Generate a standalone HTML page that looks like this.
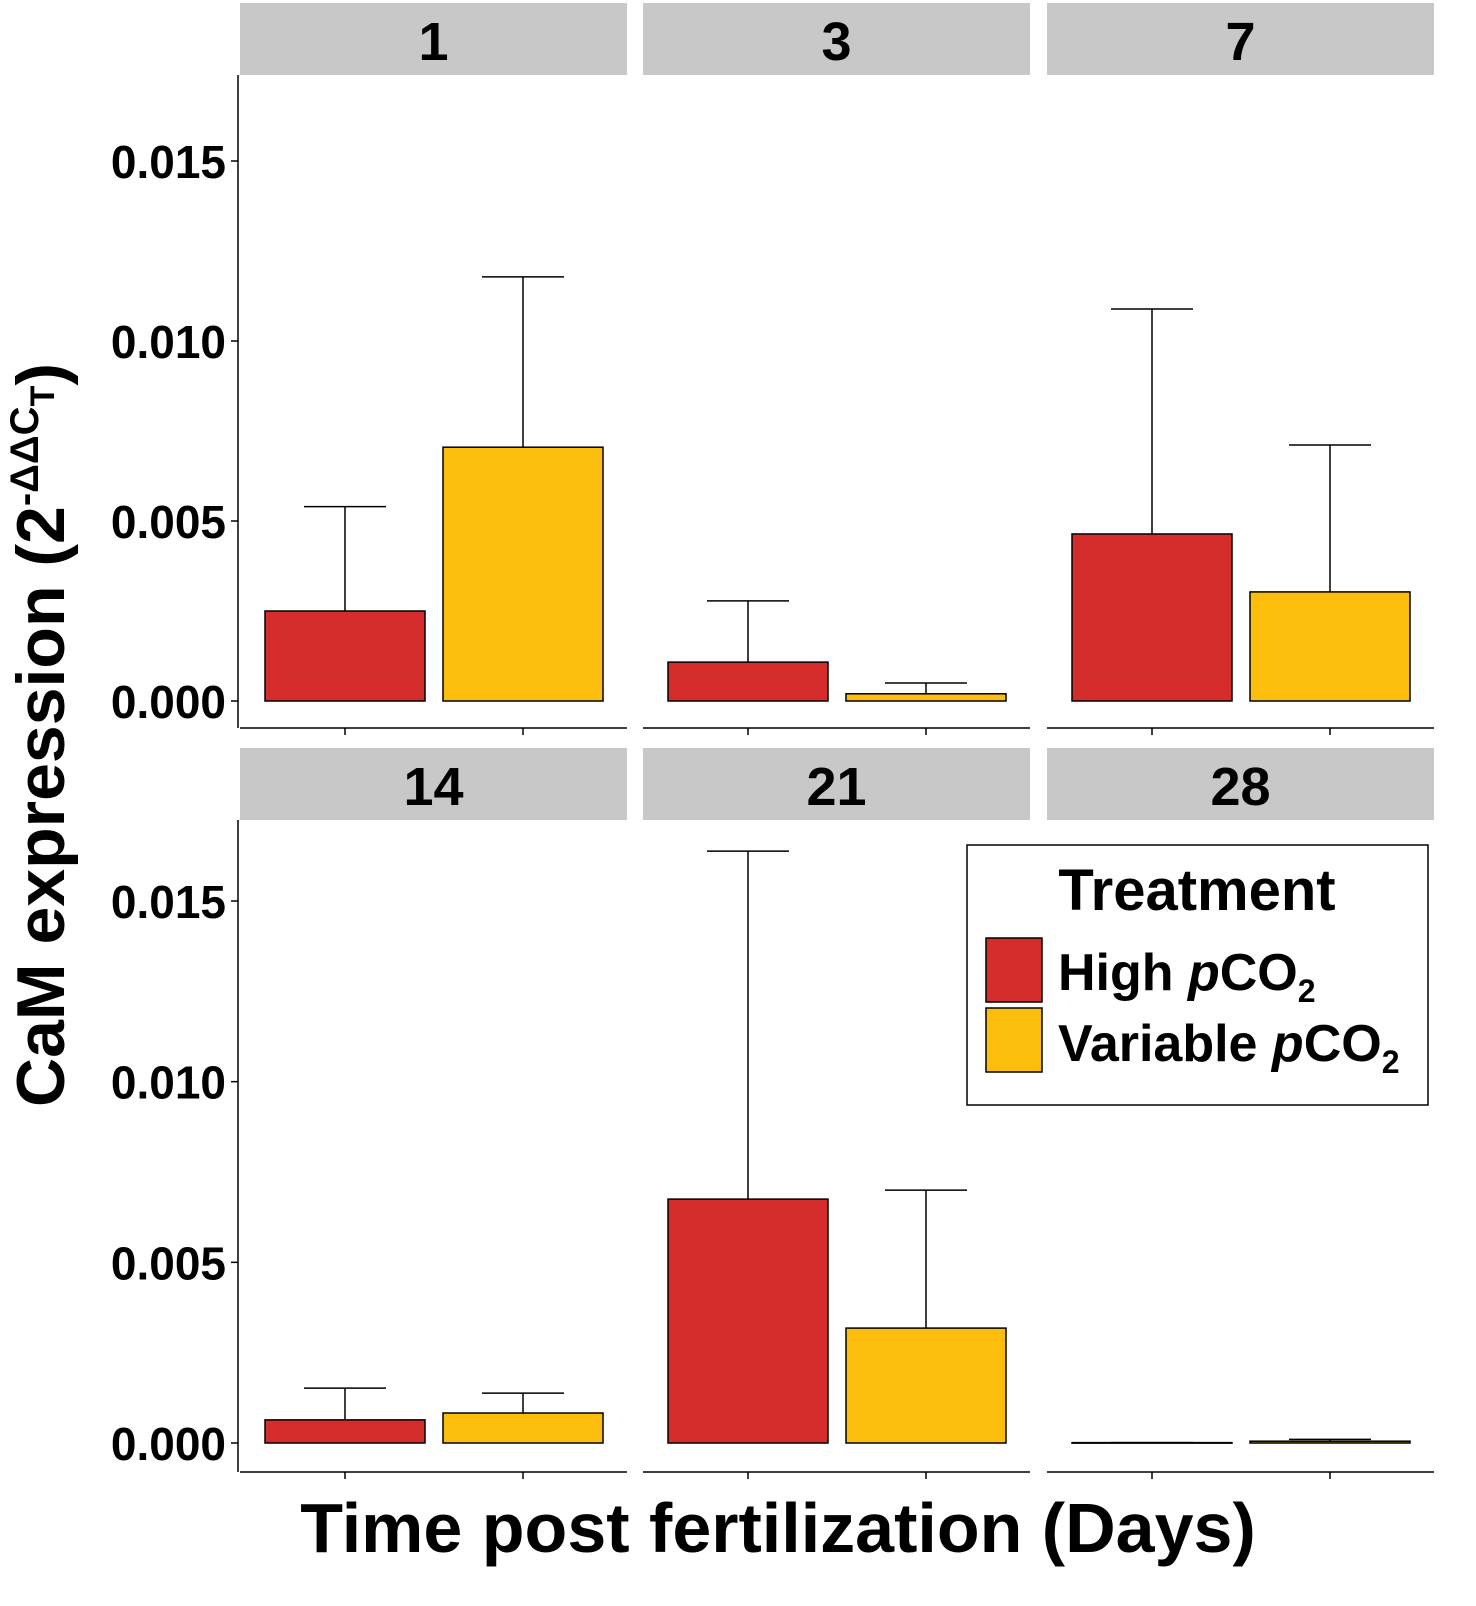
<!DOCTYPE html>
<html><head><meta charset="utf-8"><style>
body{margin:0;background:#fff}
svg{display:block;font-family:"Liberation Sans",Arial,sans-serif;font-weight:bold}
</style></head><body>
<svg id="chart" width="1476" height="1606" viewBox="0 0 1476 1606">
<g id="g"></g>
<text x="0" y="0" transform="translate(64,735) rotate(-90)" text-anchor="middle" font-size="68">CaM expression (2<tspan font-size="40" dy="-26">-ΔΔC</tspan><tspan font-size="34" dy="16">T</tspan><tspan dy="10">)</tspan></text>
<text x="778" y="1552" text-anchor="middle" font-size="70">Time post fertilization (Days)</text>
<g>
<rect x="967" y="845" width="461" height="260" fill="#fff" stroke="#000" stroke-width="1.5"/>
<text x="1197" y="910" text-anchor="middle" font-size="58">Treatment</text>
<rect x="986" y="938" width="56" height="64" fill="#d42d2b" stroke="#000" stroke-width="1.5"/>
<rect x="986" y="1008" width="56" height="64" fill="#fdbd0c" stroke="#000" stroke-width="1.5"/>
<text x="1058" y="990" font-size="52">High <tspan font-style="italic">p</tspan>CO<tspan font-size="32" dy="12">2</tspan></text>
<text x="1058" y="1061" font-size="52">Variable <tspan font-style="italic">p</tspan>CO<tspan font-size="32" dy="12">2</tspan></text>
</g>
</svg>
<script>
const days=["1","3","7","14","21","28"];
const highMean=[0.0025,0.00108,0.00464,0.00064,0.00675,0.00001];
const highErr=[0.0054,0.00278,0.01089,0.00152,0.01638,0.00001];
const varMean=[0.00705,0.0002,0.00303,0.00083,0.00318,0.00005];
const varErr=[0.01178,0.0005,0.00711,0.00138,0.007,0.0001];
const yTicks=[0,0.005,0.010,0.015];
const yTickLabels=["0.000","0.005","0.010","0.015"];
const NS="http://www.w3.org/2000/svg";
const g=document.getElementById('g');
function mk(t,a,p){const e=document.createElementNS(NS,t);for(const k in a)e.setAttribute(k,a[k]);(p||g).appendChild(e);return e;}
const panelX=[240,643,1047],panelW=387;
const rows=[{strip:3,zero:701,top:75,bottom:728,scale:36000},{strip:748,zero:1443,top:820,bottom:1472,scale:36133}];
function yS(r,v){return rows[r].zero-v*rows[r].scale;}
rows.forEach((R,r)=>{
 const ax=mk('line',{x1:238,x2:238,y1:R.top,y2:R.bottom,stroke:'#000','stroke-width':1.5});
 
 
 yTicks.forEach((t,i)=>{
  const y=yS(r,t);
  mk('line',{x1:231,x2:238,y1:y,y2:y,stroke:'#000','stroke-width':1.5});
  const tx=mk('text',{x:226,y:y+17,'text-anchor':'end','font-size':46});
  tx.textContent=yTickLabels[i];
  
  
 });
});
days.forEach((d,i)=>{
 const r=Math.floor(i/3),c=i%3,R=rows[r],x0=panelX[c];
 const st=mk('rect',{x:x0,y:R.strip,width:panelW,height:72,fill:'#c8c8c8'});
 
 
 const tt=mk('text',{x:x0+panelW/2,y:R.strip+57,'text-anchor':'middle','font-size':54});
 tt.textContent=d;
 
 
 const xa=mk('line',{x1:x0,x2:x0+panelW,y1:R.bottom,y2:R.bottom,stroke:'#000','stroke-width':1.5});
 
 
 [[highMean,highErr,'#d42d2b',25,'high'],[varMean,varErr,'#fdbd0c',203,'variable']].forEach(([m,e,col,off,nm])=>{
  const bx=x0+off,bw=160,cx=bx+bw/2;
  const yt=yS(r,m[i]),ye=yS(r,e[i]),y0=R.zero;
  mk('line',{x1:cx,x2:cx,y1:R.bottom,y2:R.bottom+7,stroke:'#000','stroke-width':1.5});
  const el=mk('line',{x1:cx,x2:cx,y1:yt,y2:ye,stroke:'#000','stroke-width':1.5});
  
  
  mk('line',{x1:cx-41,x2:cx+41,y1:ye,y2:ye,stroke:'#000','stroke-width':1.5});
  const b=mk('rect',{x:bx,y:yt,width:bw,height:Math.max(y0-yt,0.5),fill:col,stroke:'#000','stroke-width':1.5});
  
  
 });
});
</script>
</body></html>
